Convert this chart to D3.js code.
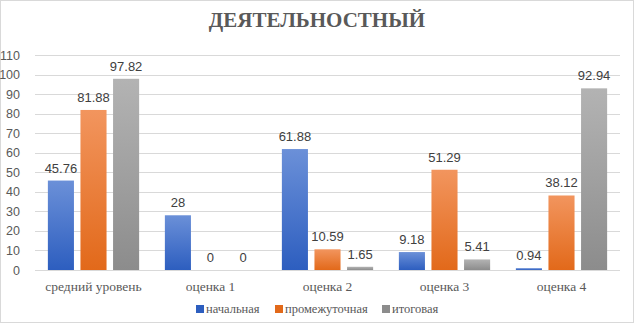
<!DOCTYPE html>
<html>
<head>
<meta charset="utf-8">
<script src="https://cdn.jsdelivr.net/npm/d3@7"></script>
<style>
  body { margin: 0; background: #fff; }
</style>
</head>
<body>
<div id="grafico"></div>
<script>
// Dados do gráfico
const categorias = ['средний уровень', 'оценка 1', 'оценка 2', 'оценка 3', 'оценка 4'];
const series = ['начальная', 'промежуточная', 'итоговая'];
const valoresNachalnaya = [45.76, 28, 61.88, 9.18, 0.94];
const valoresPromezh = [81.88, 0, 10.59, 51.29, 38.12];
const valoresItog = [97.82, 0, 1.65, 5.41, 92.94];
const ticksY = [0, 10, 20, 30, 40, 50, 60, 70, 80, 90, 100, 110];

const valores = [valoresNachalnaya, valoresPromezh, valoresItog];
const cores = [
  ['#6b90d8', '#2d5ebf'],
  ['#f2955e', '#e2691a'],
  ['#b3b3b3', '#8c8c8c']
];

// Fontes
const fonteSerif = "'Liberation Serif', 'Times New Roman', serif";
const fonteNarrow = "'Liberation Sans Narrow', 'Arial Narrow', sans-serif";

const largura = 634;
const altura = 323;
const margem = { top: 55, right: 14, bottom: 53, left: 35 };
const w = largura - margem.left - margem.right;
const h = altura - margem.top - margem.bottom;

const svg = d3.select('#grafico')
  .append('svg')
  .attr('width', largura)
  .attr('height', altura);

// Gradientes das barras
const defs = svg.append('defs');
cores.forEach((c, i) => {
  const g = defs.append('linearGradient')
    .attr('id', 'grad' + i)
    .attr('x1', 0).attr('y1', 0).attr('x2', 0).attr('y2', 1);
  g.append('stop').attr('offset', '0%').attr('stop-color', c[0]);
  g.append('stop').attr('offset', '50%').attr('stop-color', d3.interpolateRgb(c[0], c[1])(0.5));
  g.append('stop').attr('offset', '100%').attr('stop-color', c[1]);
});

// Moldura
svg.append('rect')
  .attr('x', 0.5).attr('y', 0.5)
  .attr('width', largura - 1).attr('height', altura - 1)
  .attr('fill', '#fff')
  .attr('stroke', '#d9d9d9');

// Título
svg.append('text')
  .style('font-family', fonteSerif)
  .style('font-weight', 'bold')
  .style('font-size', '21px')
  .attr('x', largura / 2)
  .attr('y', 27)
  .attr('text-anchor', 'middle')
  .attr('fill', '#595959')
  .text('ДЕЯТЕЛЬНОСТНЫЙ');

const g = svg.append('g').attr('transform', `translate(${margem.left},${margem.top})`);

// Escalas
const x0 = d3.scaleBand().domain(categorias).range([0, w]);
const larguraGrupo = x0.bandwidth() * 0.78;
const x1 = d3.scaleBand().domain(series).range([0, larguraGrupo]).paddingInner(0.2);
const y = d3.scaleLinear().domain([0, 110]).range([h, 0]);

// Linhas de grade
g.append('g')
  .selectAll('line')
  .data(ticksY)
  .enter()
  .append('line')
  .attr('x1', 0).attr('x2', w)
  .attr('y1', (d) => Math.round(y(d)) + 0.5)
  .attr('y2', (d) => Math.round(y(d)) + 0.5)
  .attr('stroke', '#d9d9d9')
  .attr('stroke-width', 1);

// Eixo Y
const eixoY = g.append('g')
  .call(d3.axisLeft(y).tickValues(ticksY).tickSize(0).tickPadding(15));
eixoY.select('.domain').remove();
eixoY.selectAll('text')
  .style('font-family', fonteNarrow)
  .style('font-size', '12.5px')
  .attr('fill', '#595959');

// Eixo X
const eixoX = g.append('g')
  .attr('transform', `translate(0,${h})`)
  .call(d3.axisBottom(x0).tickSize(0).tickPadding(11));
eixoX.select('.domain').remove();
eixoX.selectAll('text')
  .style('font-family', fonteSerif)
  .style('font-size', '13.5px')
  .attr('fill', '#595959');

// Barras
const grupos = g.selectAll('.grupo')
  .data(categorias)
  .enter()
  .append('g')
  .attr('class', 'grupo')
  .attr('transform', (d) => `translate(${x0(d) + (x0.bandwidth() - larguraGrupo) / 2},0)`);

series.forEach((s, i) => {
  grupos.append('rect')
    .attr('x', x1(s))
    .attr('width', x1.bandwidth())
    .attr('y', (d, j) => y(valores[i][j]))
    .attr('height', (d, j) => h - y(valores[i][j]))
    .attr('fill', `url(#grad${i})`);

  grupos.append('text')
    .style('font-family', fonteNarrow)
    .style('font-size', '13px')
    .attr('x', x1(s) + x1.bandwidth() / 2)
    .attr('y', (d, j) => y(valores[i][j]) - 8)
    .attr('text-anchor', 'middle')
    .attr('fill', '#404040')
    .text((d, j) => valores[i][j]);
});

// Legenda
const legenda = svg.append('g').attr('transform', 'translate(0,313)');
const posLegenda = [196, 275, 382];
series.forEach((s, i) => {
  legenda.append('rect')
    .attr('x', posLegenda[i]).attr('y', -8)
    .attr('width', 8).attr('height', 8)
    .attr('fill', cores[i][1]);
  legenda.append('text')
    .style('font-family', fonteSerif)
    .style('font-size', '12.5px')
    .attr('x', posLegenda[i] + 10)
    .attr('y', 0)
    .attr('fill', '#595959')
    .text(s);
});
</script>
</body>
</html>
